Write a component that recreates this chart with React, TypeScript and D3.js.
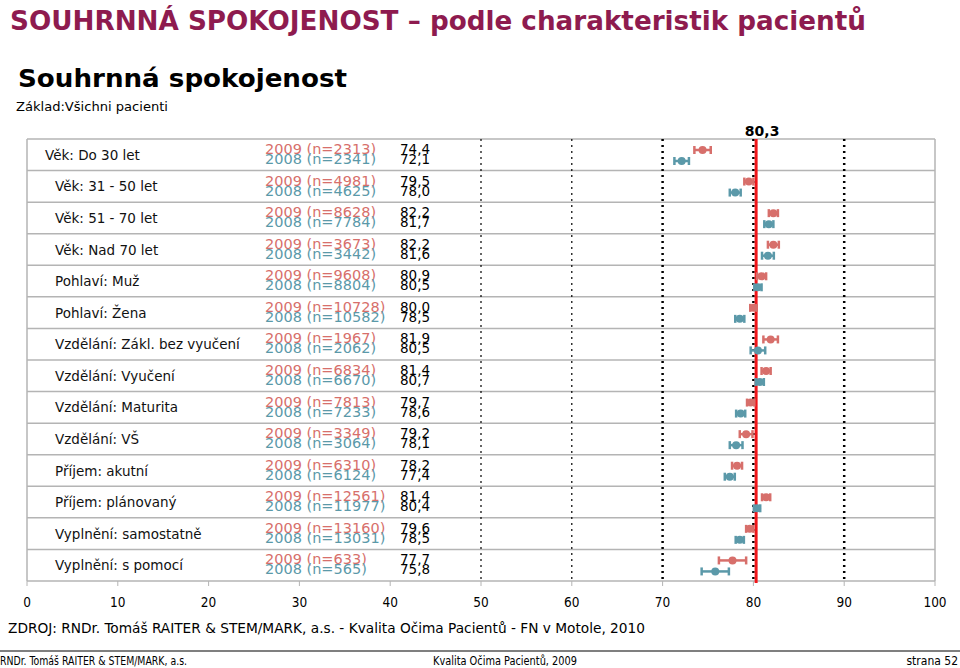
import * as d3 from "d3";
import { useEffect } from "react";

// --- data ---
const categories = [
  "Věk: Do 30 let",
  "Věk: 31 - 50 let",
  "Věk: 51 - 70 let",
  "Věk: Nad 70 let",
  "Pohlaví: Muž",
  "Pohlaví: Žena",
  "Vzdělání: Zákl. bez vyučení",
  "Vzdělání: Vyučení",
  "Vzdělání: Maturita",
  "Vzdělání: VŠ",
  "Příjem: akutní",
  "Příjem: plánovaný",
  "Vyplnění: samostatně",
  "Vyplnění: s pomocí",
];
const n2009 = [2313, 4981, 8628, 3673, 9608, 10728, 1967, 6834, 7813, 3349, 6310, 12561, 13160, 633];
const n2008 = [2341, 4625, 7784, 3442, 8804, 10582, 2062, 6670, 7233, 3064, 6124, 11977, 13031, 565];
const val2009 = [74.4, 79.5, 82.2, 82.2, 80.9, 80.0, 81.9, 81.4, 79.7, 79.2, 78.2, 81.4, 79.6, 77.7];
const val2008 = [72.1, 78.0, 81.7, 81.6, 80.5, 78.5, 80.5, 80.7, 78.6, 78.1, 77.4, 80.4, 78.5, 75.8];
// half-width of the confidence interval
const ci2009 = [0.9, 0.5, 0.5, 0.6, 0.5, 0.35, 0.8, 0.5, 0.4, 0.7, 0.55, 0.45, 0.4, 1.5];
const ci2008 = [0.8, 0.6, 0.5, 0.65, 0.4, 0.5, 0.8, 0.45, 0.5, 0.7, 0.55, 0.35, 0.45, 1.5];
const xTicks = [0, 10, 20, 30, 40, 50, 60, 70, 80, 90, 100];
const thinGrid = [50, 60];
const boldGrid = [70, 80, 90];
const overall = 80.3;

const RED = "#d76f6b";
const TEAL = "#5b99a9";
const FONT = "'DejaVu Sans', Verdana, sans-serif";
const COND = "'DejaVu Sans Condensed', 'DejaVu Sans', Tahoma, sans-serif";

const fmt = (v: number) => v.toFixed(1).replace(".", ",");

function ErrorBar({ cx, cy, lo, hi, color }: { cx: number; cy: number; lo: number; hi: number; color: string }) {
  return (
    <g stroke={color} fill={color}>
      <line x1={lo} x2={hi} y1={cy} y2={cy} strokeWidth={2.5} />
      <line x1={lo} x2={lo} y1={cy - 4} y2={cy + 4} strokeWidth={2.5} />
      <line x1={hi} x2={hi} y1={cy - 4} y2={cy + 4} strokeWidth={2.5} />
      <circle cx={cx} cy={cy} r={4} stroke="none" />
    </g>
  );
}

export default function App() {
  useEffect(() => {
    document.body.style.margin = "0";
  }, []);

  const width = 960;
  const height = 668;
  const x = d3.scaleLinear().domain([0, 100]).range([27, 935]);
  const y = d3.scaleBand<string>().domain(categories).range([139, 581]);
  const top = y.range()[0];
  const bottom = y.range()[1];
  const bw = y.bandwidth();

  return (
    <svg width={width} height={height} style={{ display: "block", background: "#fff" }}>
      {/* headings */}
      <text x={10} y={30} fontFamily={FONT} fontWeight="bold" fontSize={26} fill="#8e1b4f"
        textLength={856} lengthAdjust="spacingAndGlyphs">
        SOUHRNNÁ SPOKOJENOST – podle charakteristik pacientů
      </text>
      <text x={18} y={87} fontFamily={FONT} fontWeight="bold" fontSize={24} fill="#000"
        textLength={329} lengthAdjust="spacingAndGlyphs">
        Souhrnná spokojenost
      </text>
      <text x={16} y={111} fontFamily={FONT} fontSize={13} fill="#000"
        textLength={152} lengthAdjust="spacingAndGlyphs">
        Základ:Všichni pacienti
      </text>

      {/* row grid */}
      {categories.map((c) => (
        <line key={"g" + c} x1={x(0)} x2={x(100)} y1={y(c)!} y2={y(c)!} stroke="#b4b4b4" strokeWidth={1.5} />
      ))}
      <line x1={x(0)} x2={x(100)} y1={bottom} y2={bottom} stroke="#b4b4b4" strokeWidth={1.5} />
      <line x1={x(0)} x2={x(0)} y1={top} y2={bottom} stroke="#b4b4b4" strokeWidth={1.5} />
      <line x1={x(100)} x2={x(100)} y1={top} y2={bottom} stroke="#b4b4b4" strokeWidth={1.5} />
      {xTicks.map((t) => (
        <line key={"t" + t} x1={x(t)} x2={x(t)} y1={bottom} y2={bottom + 5} stroke="#b4b4b4" strokeWidth={1} />
      ))}

      {/* dotted verticals */}
      {thinGrid.map((t) => (
        <line key={"d" + t} x1={x(t)} x2={x(t)} y1={top} y2={bottom} stroke="#000" strokeWidth={1.2} strokeDasharray="2,4" />
      ))}
      {boldGrid.map((t) => (
        <line key={"b" + t} x1={x(t)} x2={x(t)} y1={top} y2={bottom} stroke="#000" strokeWidth={2.5} strokeDasharray="2,4" />
      ))}

      {/* overall line */}
      <line x1={x(overall)} x2={x(overall)} y1={top} y2={bottom + 2} stroke="#f0161a" strokeWidth={3} />
      <text x={x(overall) + 6} y={136} textAnchor="middle" fontFamily={FONT} fontWeight="bold" fontSize={14} fill="#000">
        {fmt(overall)}
      </text>

      {/* rows */}
      {categories.map((c, i) => {
        const y0 = y(c)!;
        return (
          <g key={c}>
            <text x={i === 0 ? 45 : 55} y={y0 + bw / 2 + 5} fontFamily={FONT} fontSize={13.5} fill="#111">
              {c}
            </text>
            <text x={265} y={y0 + 15} fontFamily={FONT} fontSize={14.5} fill={RED}>
              {`2009 (n=${n2009[i]})`}
            </text>
            <text x={265} y={y0 + 25} fontFamily={FONT} fontSize={14.5} fill={TEAL}>
              {`2008 (n=${n2008[i]})`}
            </text>
            <text x={400} y={y0 + 15} fontFamily={FONT} fontSize={13.5} fill="#000">
              {fmt(val2009[i])}
            </text>
            <text x={400} y={y0 + 25} fontFamily={FONT} fontSize={13.5} fill="#000">
              {fmt(val2008[i])}
            </text>
            <ErrorBar cx={x(val2009[i])} cy={y0 + 11} lo={x(val2009[i] - ci2009[i])} hi={x(val2009[i] + ci2009[i])} color={RED} />
            <ErrorBar cx={x(val2008[i])} cy={y0 + 22} lo={x(val2008[i] - ci2008[i])} hi={x(val2008[i] + ci2008[i])} color={TEAL} />
          </g>
        );
      })}

      {/* x axis labels */}
      {xTicks.map((t) => (
        <text key={"l" + t} x={x(t)} y={607} textAnchor="middle" fontFamily={COND} fontSize={13.5} fill="#000">
          {t}
        </text>
      ))}

      {/* source + footer */}
      <text x={8} y={633} fontFamily={COND} fontSize={14} fill="#000" textLength={637} lengthAdjust="spacingAndGlyphs">
        ZDROJ: RNDr. Tomáš RAITER &amp; STEM/MARK, a.s. -  Kvalita Očima Pacientů - FN v Motole, 2010
      </text>
      <line x1={0} x2={width} y1={651} y2={651} stroke="#555" strokeWidth={1.5} />
      <text x={0} y={665} fontFamily={COND} fontSize={12} fill="#000" textLength={187} lengthAdjust="spacingAndGlyphs">
        RNDr. Tomáš RAITER &amp; STEM/MARK, a.s.
      </text>
      <text x={433} y={665} fontFamily={COND} fontSize={12} fill="#000" textLength={144} lengthAdjust="spacingAndGlyphs">
        Kvalita Očima Pacientů, 2009
      </text>
      <text x={958} y={665} textAnchor="end" fontFamily={COND} fontSize={12} fill="#000">
        strana 52
      </text>
    </svg>
  );
}
